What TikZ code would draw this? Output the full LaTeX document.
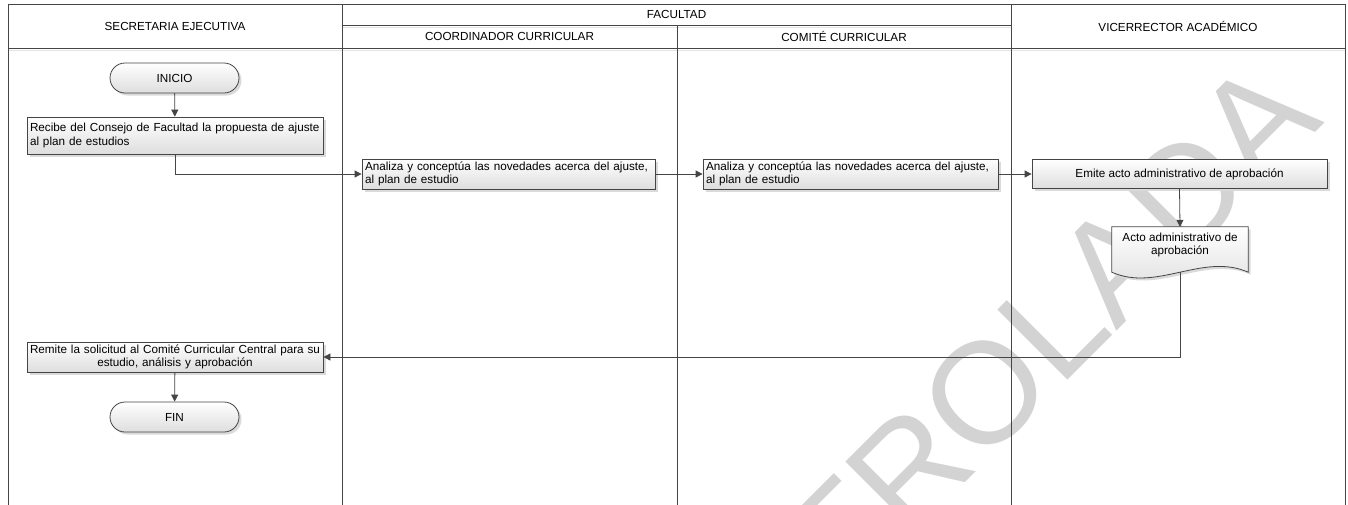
\documentclass[tikz,border=0pt]{standalone}
\usepackage{fontspec}
\setmainfont{Liberation Sans}
\newfontfamily\wmfont{Liberation Sans}
\usetikzlibrary{arrows.meta,shadows,calc}
\definecolor{ln}{HTML}{454545}
\definecolor{wmc}{HTML}{D3D3D3}
\definecolor{shc}{HTML}{DADADA}
\definecolor{lite}{HTML}{E4E4E4}
\begin{document}
\begin{tikzpicture}[x=1pt,y=-1pt,
  every node/.style={font=\fontsize{11.7}{13.5}\selectfont},
  lane/.style={draw=ln, line width=0.9pt},
  hdr/.style={inner sep=0pt},
  proc/.style={draw=ln, line width=0.8pt, top color=white, bottom color=black!13,
    drop shadow={shadow xshift=2.5pt, shadow yshift=-2.5pt, fill=shc, opacity=1},
    inner xsep=3pt, inner ysep=2pt},
  term/.style={proc, rounded corners=15pt, minimum width=129pt, minimum height=30pt},
  conn/.style={draw=ln, line width=0.8pt, -{Triangle[length=7pt,width=7pt]}},
]
\useasboundingbox (0,0) rectangle (1348,504);
\clip (0,0) rectangle (1348,504);
% watermark
\node[rotate=45, anchor=base east, inner sep=0pt, text=wmc,
  font=\wmfont\fontsize{144}{144}\selectfont] (wm) at (1326,122) {COPIA NO CONTROLADA};

% lanes
\draw[lite, line width=0.8pt] (8,50.5) -- (1345,50.5);
\draw[lite, line width=0.8pt] (342,27.5) -- (1011,27.5);
\draw[lane] (8,520) -- (8,4) -- (1345,4) -- (1345,520);
\draw[lane] (8,48) -- (1345,48);
\draw[lane] (342,25) -- (1011,25);
\draw[lane] (342,4) -- (342,520);
\draw[lane] (677,25) -- (677,520);
\draw[lane] (1011,4) -- (1011,520);

\node[hdr] (h1) at (175,26.5) {SECRETARIA EJECUTIVA};
\node[hdr] (h2) at (676.5,14.5) {FACULTAD};
\node[hdr] (h3) at (509.5,36.5) {COORDINADOR CURRICULAR};
\node[hdr] (h4) at (844,36.5) {COMITÉ CURRICULAR};
\node[hdr] (h5) at (1178,26.5) {VICERRECTOR ACADÉMICO};

% shapes
\node[term] (ini) at (174.5,78) {INICIO};
\node[proc, text width=290pt, minimum height=37pt, align=left] (b1) at (175,135.5)
  {Recibe del Consejo de Facultad la propuesta de ajuste\\al plan de estudios};
\node[proc, text width=287pt, minimum height=30pt, align=left] (b2) at (508.5,174)
  {\makebox[287pt][s]{Analiza y conceptúa las novedades acerca del ajuste,}\\al plan de estudio};
\node[proc, text width=289pt, minimum height=30pt, align=left] (b3) at (850.5,174)
  {\makebox[289pt][s]{Analiza y conceptúa las novedades acerca del ajuste,}\\al plan de estudio};
\node[proc, minimum width=295pt, minimum height=29pt] (b4) at (1179.5,174)
  {Emite acto administrativo de aprobación};
\node[inner sep=0pt, minimum width=136pt, minimum height=36pt] (doc) at (1180,245) {};
\coordinate (docb) at ($(doc.south)+(0,9)$);
\path[draw=ln, line width=0.8pt, top color=white, bottom color=black!13,
    drop shadow={shadow xshift=2.5pt, shadow yshift=-2.5pt, fill=shc, opacity=1}]
  ($(doc.south west)+(0,9)$) -- (doc.north west) -- (doc.north east) -- ($(doc.south east)+(0,9)$)
  .. controls ($(doc.south east)+(-45,-11)$) and ($(doc.south west)+(45,29)$) .. ($(doc.south west)+(0,9)$) -- cycle;
\node[inner sep=0pt, align=center] (doctext) at (doc.center) {Acto administrativo de\\aprobación};
\node[proc, text width=290pt, minimum height=30pt, align=center] (b5) at (175,357)
  {Remite la solicitud al Comité Curricular Central para su\\estudio, análisis y aprobación};
\node[term] (fin) at (174.5,417) {FIN};

% connectors
\draw[conn] (ini) -- (b1);
\draw[conn] (b1.south) |- (b2.west);
\draw[conn] (b2) -- (b3);
\draw[conn] (b3) -- (b4);
\draw[conn] (b4.south) -- (doc.north);
\draw[conn] (docb) |- (b5.east);
\draw[conn] (b5) -- (fin);
\end{tikzpicture}
\end{document}
